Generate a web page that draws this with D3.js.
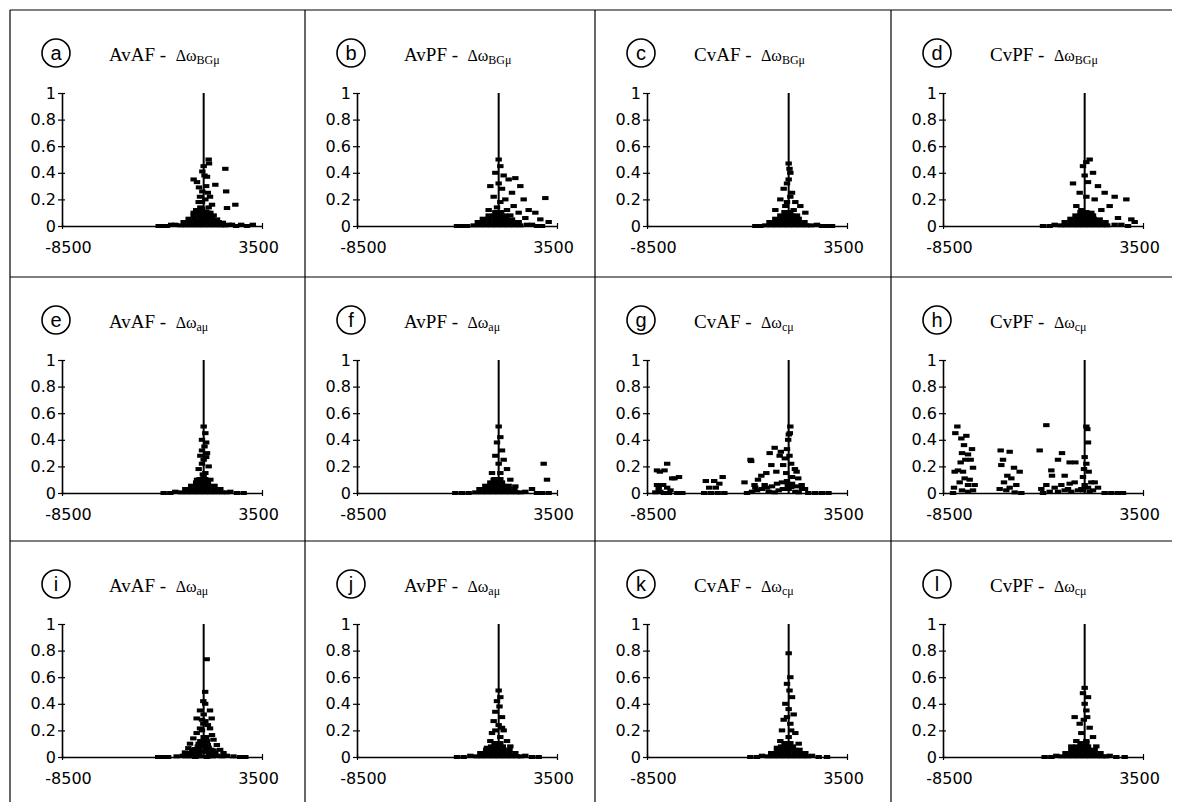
<!DOCTYPE html>
<html>
<head>
<meta charset="utf-8">
<script src="https://cdn.jsdelivr.net/npm/d3@7"></script>
<style>
  body { margin: 0; background: #fff; }
  .tick text { font-family: "DejaVu Sans", Verdana, sans-serif; font-size: 16px; fill: #000; }
</style>
</head>
<body>
<div id="chart-area"></div>
<script>
// panel labels
var letters = ["a", "b", "c", "d", "e", "f", "g", "h", "i", "j", "k", "l"];
var titles = ["AvAF - ", "AvPF - ", "CvAF - ", "CvPF - ",
              "AvAF - ", "AvPF - ", "CvAF - ", "CvPF - ",
              "AvAF - ", "AvPF - ", "CvAF - ", "CvPF - "];
var subs = ["BGμ", "BGμ", "BGμ", "BGμ", "aμ", "aμ", "cμ", "cμ", "aμ", "aμ", "cμ", "cμ"];
var xTicks = [-8500, 3500];
var yTicks = [0, 0.2, 0.4, 0.6, 0.8, 1];

// scatter values [x, y]
var pointsA = [[300,0.50],[320,0.47],[1300,0.43],[-80,0.41],[200,0.37],[-600,0.35],[-400,0.33],[-280,0.29],[150,0.30],[700,0.31],
  [1350,0.26],[-80,0.26],[-220,0.22],[380,0.22],[-100,0.18],[500,0.16],[1900,0.16],[1400,0.135],[-600,0.10],[150,0.11],
  [600,0.08],[-200,0.14],[100,0.20],[0,0.45],[50,0.38],[250,0.25],[300,0.14],[-300,0.18],[-450,0.12],[400,0.10],
  [-2700,0],[-2450,0],[-2200,0],[-1950,0.01],[-1700,0.01],[1500,0.01],[1700,0.01],[1950,0],[2250,0.01],[2600,0],[2950,0.01],
  [-1400,0.005],[-1050,0.005],[-700,0.005],[-350,0.005],[0,0.005],[350,0.005],[700,0.005],[1050,0.005],[1300,0.005],
  [-1200,0.03],[-850,0.03],[-500,0.03],[-150,0.03],[200,0.03],[550,0.03],[900,0.03],[1150,0.025],
  [-900,0.055],[-550,0.055],[-200,0.055],[150,0.055],[500,0.055],[800,0.05],
  [-600,0.08],[-250,0.08],[100,0.08],[400,0.075],[-300,0.105],[50,0.105],[250,0.10],[-100,0.13]];
var pointsB = [[0,0.50],[100,0.45],[-200,0.40],[300,0.38],[600,0.35],[1000,0.36],[1300,0.30],[-500,0.30],[200,0.28],[800,0.25],
  [-300,0.22],[400,0.20],[1500,0.20],[2800,0.21],[900,0.15],[1800,0.12],[2200,0.10],[-600,0.12],[1200,0.10],[2500,0.05],
  [3000,0.03],[0,0.32],[100,0.18],[-100,0.14],[500,0.12],[700,0.08],[1600,0.06],[-2500,0],[-2200,0],[-1900,0],
  [1700,0.01],[2000,0.01],[2300,0],[2600,0],
  [-1500,0.005],[-1150,0.005],[-800,0.005],[-450,0.005],[-100,0.005],[250,0.005],[600,0.005],[950,0.005],[1300,0.005],
  [-1250,0.03],[-900,0.03],[-550,0.03],[-200,0.03],[150,0.03],[500,0.03],[850,0.03],[1200,0.03],
  [-950,0.055],[-600,0.055],[-250,0.055],[100,0.055],[450,0.055],[800,0.05],
  [-600,0.08],[-250,0.08],[100,0.08],[400,0.08],[-200,0.105],[150,0.105]];
var pointsC = [[0,0.47],[50,0.43],[100,0.40],[-100,0.32],[-300,0.28],[200,0.25],[-500,0.20],[400,0.18],[700,0.15],[-800,0.12],
  [1000,0.10],[300,0.12],[-200,0.15],[0,0.35],[100,0.22],[-100,0.18],[500,0.08],[-2000,0],[-1700,0],
  [1700,0.01],[2000,0],[2300,0],[2600,0],
  [-1400,0.005],[-1050,0.005],[-700,0.005],[-350,0.005],[0,0.005],[350,0.005],[700,0.005],[1050,0.005],[1350,0.005],
  [-1150,0.03],[-800,0.03],[-450,0.03],[-100,0.03],[250,0.03],[600,0.03],[950,0.03],
  [-800,0.055],[-450,0.055],[-100,0.055],[250,0.055],[600,0.055],
  [-500,0.08],[-150,0.08],[200,0.08],[-250,0.105],[100,0.105]];
var pointsD = [[300,0.50],[100,0.48],[-100,0.45],[-700,0.32],[500,0.40],[200,0.33],[800,0.30],[-300,0.25],[1200,0.25],[600,0.20],
  [1800,0.22],[2500,0.20],[1500,0.15],[-500,0.15],[1000,0.12],[2000,0.06],[2800,0.05],[3000,0.03],[0,0.38],[100,0.22],
  [-200,0.12],[400,0.10],[-2500,0],[-2100,0],[-1800,0.01],[1800,0.01],[2200,0.01],[2600,0],
  [-1450,0.005],[-1100,0.005],[-750,0.005],[-400,0.005],[-50,0.005],[300,0.005],[650,0.005],[1000,0.005],[1350,0.005],
  [-1200,0.03],[-850,0.03],[-500,0.03],[-150,0.03],[200,0.03],[550,0.03],[900,0.03],[1250,0.03],
  [-850,0.055],[-500,0.055],[-150,0.055],[200,0.055],[550,0.055],[900,0.05],
  [-550,0.08],[-200,0.08],[150,0.08],[500,0.08],[-250,0.105],[100,0.105]];
var pointsE = [[0,0.50],[100,0.45],[-100,0.40],[50,0.35],[200,0.30],[-200,0.28],[0,0.25],[300,0.20],[-300,0.18],[100,0.15],
  [-400,0.10],[400,0.10],[-100,0.22],[150,0.38],[0,0.12],[-100,0.32],[150,0.27],[-2400,0],[-2000,0],[-1700,0.01],
  [1600,0.01],[2000,0],[2400,0],
  [-1350,0.005],[-1000,0.005],[-650,0.005],[-300,0.005],[50,0.005],[400,0.005],[750,0.005],[1100,0.005],[1400,0.005],
  [-1100,0.03],[-750,0.03],[-400,0.03],[-50,0.03],[300,0.03],[650,0.03],[1000,0.03],
  [-750,0.055],[-400,0.055],[-50,0.055],[300,0.055],[650,0.055],
  [-450,0.08],[-100,0.08],[250,0.08],[-250,0.105],[100,0.105],[-50,0.14]];
var pointsF = [[0,0.50],[100,0.42],[-100,0.38],[200,0.32],[-200,0.28],[300,0.25],[0,0.22],[500,0.18],[-400,0.15],[700,0.10],
  [2700,0.22],[2900,0.10],[1000,0.05],[2000,0.03],[100,0.15],[-300,0.10],[-2600,0],[-2200,0],[-1800,0],
  [1600,0.01],[2300,0],[2600,0],[3000,0],
  [-1400,0.005],[-1050,0.005],[-700,0.005],[-350,0.005],[0,0.005],[350,0.005],[700,0.005],[1050,0.005],[1350,0.005],
  [-1150,0.03],[-800,0.03],[-450,0.03],[-100,0.03],[250,0.03],[600,0.03],[950,0.03],
  [-800,0.055],[-450,0.055],[-100,0.055],[250,0.055],[600,0.055],
  [-500,0.08],[-150,0.08],[200,0.08],[-250,0.105],[100,0.105]];
var pointsG = [[-7900,0.17],[-7730,0.16],[-7290,0.22],[-7450,0.17],[-7900,0.06],[-7800,0.03],[-7530,0.06],[-7290,0.04],[-7090,0.02],[-6850,0.11],
  [-6580,0.12],[-6990,0.11],[-8000,0.005],[-7490,0],[-7190,0],[-6680,0],[-6380,0],[-7700,0.01],
  [-4970,0.09],[-4470,0.09],[-3960,0.12],[-4770,0.04],[-4160,0.07],[-5070,0],[-4670,0],[-4260,0],[-3860,0],[-4370,0.04],
  [-2290,0.25],[-2250,0.24],[-2650,0.08],[-2050,0.06],[-1840,0.10],[-1640,0.13],[-1340,0.15],[-1140,0.30],[-840,0.34],[-540,0.28],
  [-470,0.31],[-330,0.21],[-230,0.26],[-1040,0.21],[-740,0.16],[-1440,0.06],[-30,0.40],[10,0.44],[70,0.45],[100,0.50],
  [375,0.18],[475,0.16],[575,0.11],[780,0.06],[980,0.03],[1180,0],[1590,0],[1990,0],[2390,0],[-100,0.33],
  [50,0.28],[150,0.22],[-150,0.15],[200,0.12],[-2500,0],[-2200,0.01],[-1900,0.02],[-1600,0.03],[-1300,0.04],[-1000,0.05],
  [-700,0.07],[-400,0.08],[-100,0.09],[200,0.07],[500,0.05],[800,0.03],[-2000,0.04],[-1200,0.01],[-600,0.02],[0,0.03],[400,0.01],
  [-850,0.005],[-350,0.03],[150,0.045],[-50,0.06],[600,0.005]];
var pointsH = [[-7640,0.50],[-7760,0.45],[-7400,0.41],[-7100,0.43],[-6760,0.33],[-7240,0.36],[-7360,0.30],[-7000,0.29],[-7440,0.23],[-7160,0.25],
  [-6840,0.25],[-7600,0.17],[-7800,0.16],[-6700,0.19],[-7300,0.16],[-7200,0.11],[-6900,0.10],[-7500,0.08],[-7000,0.06],[-6600,0.06],
  [-7840,0.04],[-7360,0.02],[-7000,0.01],[-6700,0.02],[-7900,0],
  [-5040,0.32],[-4500,0.31],[-4900,0.25],[-5000,0.21],[-4240,0.19],[-3900,0.16],[-4640,0.13],[-4400,0.11],[-4840,0.08],[-4100,0.06],
  [-4500,0.04],[-5100,0.03],[-4700,0.02],[-4200,0.005],[-3800,0],
  [-2700,0.32],[-2300,0.51],[-2000,0.17],[-1960,0.13],[-1600,0.25],[-1360,0.30],[-900,0.23],[-560,0.23],[-1200,0.13],[-900,0.07],
  [-600,0.08],[-2300,0.06],[-2600,0.03],[-1800,0.04],[-1400,0.06],[-1000,0.03],[-200,0.03],[-2100,0.01],[-1600,0.01],[-1200,0.02],
  [-800,0.01],[-400,0.02],[-2500,0],
  [100,0.50],[160,0.48],[200,0.38],[0,0.27],[100,0.22],[-40,0.18],[240,0.16],[-100,0.12],[400,0.08],[600,0.08],
  [800,0.04],[0,0.06],[200,0.04],[-100,0.02],[300,0.01],[500,0.02],[1200,0],[1600,0],[2000,0],[2300,0]];
var pointsI = [[180,0.735],[90,0.49],[-20,0.42],[90,0.40],[-220,0.35],[380,0.35],[-420,0.29],[480,0.29],[-20,0.25],[-220,0.215],
  [380,0.215],[-420,0.18],[500,0.165],[-620,0.14],[590,0.13],[-820,0.10],[790,0.09],[-920,0.067],[990,0.054],[-1120,0.035],
  [1190,0.03],[-1250,0.01],[1390,0.01],[0,0.32],[100,0.27],[-100,0.20],[200,0.12],[-300,0.10],[0,0.15],[300,0.07],
  [-500,0.06],[-700,0.04],[600,0.05],[-300,0.03],[100,0.04],[400,0.02],[-900,0.01],[800,0.01],[-500,0],[200,0],
  [-2730,0],[-2430,0],[-2130,0],[-1620,0.005],[1790,0.005],[2190,0],[2500,0],[-100,0.08],[0,0.10],
  [-1100,0.005],[-750,0.005],[-150,0.005],[550,0.005],[1100,0.005],[-850,0.03],[-550,0.03],[-50,0.04],[300,0.03],[700,0.03],
  [-600,0.055],[-250,0.06],[150,0.06],[450,0.055],[-350,0.08],[250,0.09],[-200,0.12],[150,0.15],[-100,0.28],[250,0.24]];
var pointsJ = [[0,0.50],[100,0.45],[-100,0.42],[50,0.38],[-200,0.34],[200,0.30],[-300,0.27],[0,0.24],[300,0.20],[-400,0.18],
  [100,0.15],[-500,0.12],[500,0.12],[-100,0.10],[700,0.08],[-700,0.07],[-2500,0],[-2100,0],[-1700,0.01],
  [1600,0.01],[2000,0],[2400,0],
  [-1350,0.005],[-1000,0.005],[-650,0.005],[-300,0.005],[50,0.005],[400,0.005],[750,0.005],[1100,0.005],[1350,0.005],
  [-1100,0.03],[-750,0.03],[-400,0.03],[-50,0.03],[300,0.03],[650,0.03],[1000,0.03],
  [-750,0.055],[-400,0.055],[-50,0.055],[300,0.055],[650,0.055],
  [-450,0.08],[-100,0.08],[250,0.08],[-250,0.105],[100,0.105],[200,0.22],[-200,0.2]];
var pointsK = [[0,0.78],[100,0.60],[-100,0.55],[50,0.50],[200,0.45],[-200,0.40],[0,0.36],[300,0.32],[-300,0.28],[100,0.25],
  [-400,0.20],[400,0.18],[0,0.15],[-500,0.12],[600,0.10],[-700,0.07],[-2300,0],[-1900,0],[-1600,0.01],
  [1400,0.01],[1800,0],[2300,0],
  [-1250,0.005],[-900,0.005],[-550,0.005],[-200,0.005],[150,0.005],[500,0.005],[850,0.005],[1150,0.005],
  [-1050,0.03],[-700,0.03],[-350,0.03],[0,0.03],[350,0.03],[700,0.03],[1000,0.03],
  [-700,0.055],[-350,0.055],[0,0.055],[350,0.055],[650,0.055],
  [-450,0.08],[-100,0.08],[250,0.08],[-250,0.105],[100,0.105],[150,0.2],[-100,0.3]];
var pointsL = [[0,0.52],[-100,0.48],[200,0.45],[-600,0.30],[100,0.35],[-300,0.25],[0,0.40],[300,0.22],[-200,0.18],[500,0.15],
  [-500,0.12],[100,0.12],[-800,0.08],[700,0.08],[-2400,0],[-2000,0],[-1700,0.01],
  [1500,0.01],[1900,0],[2400,0],
  [-1400,0.005],[-1050,0.005],[-700,0.005],[-350,0.005],[0,0.005],[350,0.005],[700,0.005],[1050,0.005],[1300,0.005],
  [-1150,0.03],[-800,0.03],[-450,0.03],[-100,0.03],[250,0.03],[600,0.03],[950,0.03],
  [-800,0.055],[-450,0.055],[-100,0.055],[250,0.055],[600,0.055],
  [-500,0.08],[-150,0.08],[200,0.08],[-250,0.105],[100,0.105],[-50,0.28],[150,0.3]];

var panels = [pointsA, pointsB, pointsC, pointsD, pointsE, pointsF,
              pointsG, pointsH, pointsI, pointsJ, pointsK, pointsL];

var width = 1180, height = 802;
var colX = [10, 305, 595, 891], rowY = [10, 277, 541];

var svg = d3.select("#chart-area")
    .append("svg")
    .attr("width", width)
    .attr("height", height);

// grid borders
rowY.forEach(function (yy) {
    svg.append("line").attr("x1", 10).attr("x2", 1172).attr("y1", yy).attr("y2", yy)
        .attr("stroke", "#000").attr("stroke-width", 1.2);
});
colX.forEach(function (xx) {
    svg.append("line").attr("x1", xx).attr("x2", xx).attr("y1", 10).attr("y2", height)
        .attr("stroke", "#000").attr("stroke-width", 1.2);
});

var x = d3.scaleLinear().domain([-8500, 3500]).range([52, 252]);
var y = d3.scaleLinear().domain([0, 1]).range([216, 83]);

panels.forEach(function (pts, i) {
    var g = svg.append("g")
        .attr("transform", "translate(" + colX[i % 4] + "," + rowY[Math.floor(i / 4)] + ")");

    // circled letter
    g.append("circle").attr("cx", 46).attr("cy", 43).attr("r", 14)
        .attr("fill", "none").attr("stroke", "#000").attr("stroke-width", 1.6);
    g.append("text").attr("x", 46).attr("y", 50)
        .attr("text-anchor", "middle")
        .style("font-family", "'Liberation Sans', Arial, sans-serif")
        .style("font-size", "20px")
        .text(letters[i]);

    // title
    var t = g.append("text").attr("x", 99).attr("y", 51)
        .style("font-family", "'Liberation Serif', 'Times New Roman', serif");
    t.append("tspan").style("font-size", "19px").text(titles[i] + "\u00a0");
    t.append("tspan").style("font-size", "16px").text("Δω");
    t.append("tspan").style("font-size", "12px").attr("dy", 3).text(subs[i]);

    // axes
    var yAxis = d3.axisLeft(y).tickValues(yTicks).tickSize(4).tickSizeOuter(0).tickPadding(2)
        .tickFormat(function (d) { return d === 0 || d === 1 ? d : d.toFixed(1); });
    var ya = g.append("g").attr("transform", "translate(" + x(-8500) + ",0)").call(yAxis);
    ya.select(".domain").attr("stroke-width", 1.6);
    ya.selectAll(".tick line").attr("x1", 3).attr("stroke-width", 1.2);

    var xAxis = d3.axisBottom(x).tickValues(xTicks).tickSize(3).tickSizeOuter(0).tickPadding(13)
        .tickFormat(function (d) { return String(d); });
    var xa = g.append("g").attr("transform", "translate(0," + y(0) + ")").call(xAxis);
    xa.select(".domain").attr("stroke-width", 1.6);
    xa.selectAll(".tick line").attr("y1", -3).attr("stroke-width", 1.2);
    xa.selectAll(".tick text").attr("dx", function (d) { return d < 0 ? 6 : -4; });

    // vertical reference line at zero
    g.append("line")
        .attr("x1", x(0)).attr("x2", x(0))
        .attr("y1", y(0)).attr("y2", y(1))
        .attr("stroke", "#000").attr("stroke-width", 2);

    // dash markers
    g.selectAll("rect.pt")
        .data(pts)
        .enter()
        .append("rect")
        .attr("class", "pt")
        .attr("x", function (d) { return x(d[0]) - 3.2; })
        .attr("y", function (d) { return y(d[1]) - 2; })
        .attr("width", 6.4)
        .attr("height", 4)
        .attr("fill", "#000");
});
</script>
</body>
</html>
